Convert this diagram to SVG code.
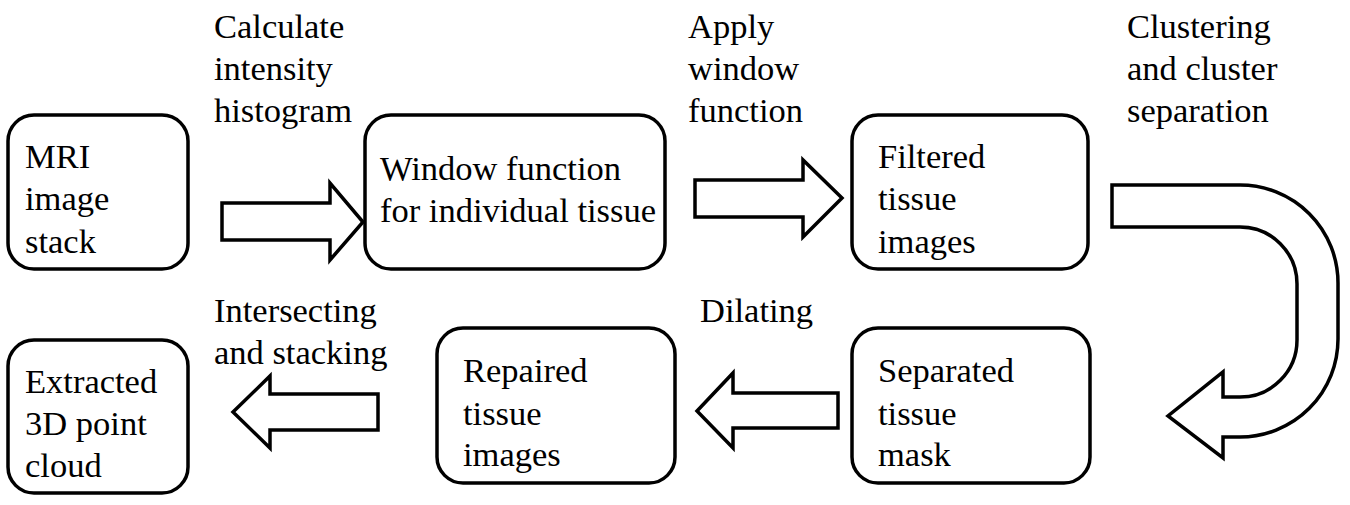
<svg xmlns="http://www.w3.org/2000/svg" width="1350" height="505" viewBox="0 0 1350 505">
<style>
.box{fill:#fff;stroke:#000;stroke-width:3.5}
.arr{fill:#fff;stroke:#000;stroke-width:3.5;stroke-linejoin:miter}
text{font-size:34.5px;fill:#000}
</style>
<rect width="1350" height="505" fill="#fff"/>
<g font-family="'Liberation Serif', 'DejaVu Serif', serif">
<g id="connectors">
<polygon class="arr" points="222,203 330,203 330,183 363,222 330,260 330,240 222,240"/>
<polygon class="arr" points="695,180 803,180 803,160 842,198 803,237 803,217 695,217"/>
<path class="arr" d="M1112,185 H1240 A98,98 0 0 1 1338,283 V339 A98,98 0 0 1 1240,437 H1223 V458 L1168,416 L1223,372 V397 H1240 A57,57 0 0 0 1297,340 V284 A57,57 0 0 0 1240,227 H1112 Z"/>
<polygon class="arr" points="838,393 733,393 733,373 697,411 733,448 733,428 838,428"/>
<polygon class="arr" points="378,394 270,394 270,376 233,412 270,448 270,430 378,430"/>
<g id="edge-labels">
<text x="214" y="38">Calculate</text>
<text x="214" y="80">intensity</text>
<text x="214" y="122">histogram</text>
<text x="688" y="38">Apply</text>
<text x="688" y="80">window</text>
<text x="688" y="122">function</text>
<text x="1127" y="38">Clustering</text>
<text x="1127" y="80">and cluster</text>
<text x="1127" y="122">separation</text>
<text x="700" y="322">Dilating</text>
<text x="214" y="322">Intersecting</text>
<text x="214" y="364">and stacking</text>
</g>
</g>
<g id="node-mri">
<rect class="box" x="8" y="115" width="180" height="154" rx="26"/>
<text x="25" y="168">MRI</text>
<text x="25" y="210">image</text>
<text x="25" y="253">stack</text>
</g>
<g id="node-window">
<rect class="box" x="365" y="115" width="300" height="154" rx="26"/>
<text x="380" y="180">Window function</text>
<text x="380" y="222">for individual tissue</text>
</g>
<g id="node-filtered">
<rect class="box" x="852" y="115" width="236" height="154" rx="26"/>
<text x="878" y="168">Filtered</text>
<text x="878" y="210">tissue</text>
<text x="878" y="253">images</text>
</g>
<g id="node-separated">
<rect class="box" x="852" y="328" width="238" height="155" rx="26"/>
<text x="878" y="382">Separated</text>
<text x="878" y="425">tissue</text>
<text x="878" y="466">mask</text>
</g>
<g id="node-repaired">
<rect class="box" x="437" y="328" width="238" height="155" rx="26"/>
<text x="463" y="382">Repaired</text>
<text x="463" y="425">tissue</text>
<text x="463" y="466">images</text>
</g>
<g id="node-extracted">
<rect class="box" x="8" y="340" width="180" height="153" rx="26"/>
<text x="25" y="393">Extracted</text>
<text x="25" y="435">3D point</text>
<text x="25" y="477">cloud</text>
</g>
</g>
</svg>
